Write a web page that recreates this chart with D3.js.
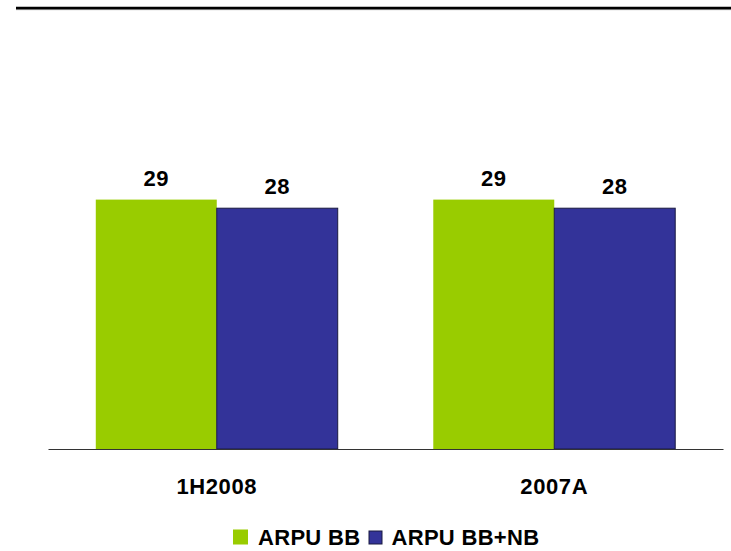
<!DOCTYPE html>
<html>
<head>
<meta charset="utf-8">
<script src="https://cdn.jsdelivr.net/npm/d3@7/dist/d3.min.js"></script>
<style>
  html, body { margin: 0; padding: 0; background: #fff; }
  svg { display: block; }
  text { font-family: "Liberation Sans", Arial, sans-serif; font-weight: bold; fill: #000; }
</style>
</head>
<body>
<svg id="chart" width="731" height="551"></svg>
<script>
// ARPU comparison by period
const categories = ["1H2008", "2007A"];
const seriesNames = ["ARPU BB", "ARPU BB+NB"];
const arpuBB = [29, 29];
const arpuBBNB = [28, 28];
const seriesColors = ["#99cc00", "#333399"];

const svg = d3.select("#chart");
const W = 731, H = 551;
const plot = { left: 48, right: 723, top: 105, bottom: 449 };

const rows = categories.map((c, i) => ({ category: c, values: [arpuBB[i], arpuBBNB[i]] }));

const x0 = d3.scaleBand().domain(categories).range([plot.left, plot.right]).paddingInner(0).paddingOuter(0);
const x1 = d3.scaleBand().domain(d3.range(seriesNames.length)).range([0, x0.bandwidth()]).paddingInner(0).paddingOuter(0.395);
const y = d3.scaleLinear().domain([0, 40]).range([plot.bottom, plot.top]);

// Header rule
svg.append("line").attr("x1", 16).attr("x2", W).attr("y1", 8).attr("y2", 8)
  .attr("stroke", "#000").attr("stroke-width", 2.6);
svg.append("line").attr("x1", 16).attr("x2", W).attr("y1", 9.6).attr("y2", 9.6)
  .attr("stroke", "#555").attr("stroke-width", 0.8);

// Bars
const groups = svg.append("g").selectAll("g").data(rows).join("g")
  .attr("transform", d => `translate(${x0(d.category)},0)`);

groups.selectAll("rect").data(d => d.values.map((v, i) => ({ v, i }))).join("rect")
  .attr("x", d => x1(d.i))
  .attr("width", x1.bandwidth())
  .attr("y", d => y(d.v))
  .attr("height", d => y(0) - y(d.v))
  .attr("fill", d => seriesColors[d.i])
  .attr("stroke", d => d.i === 1 ? "#1a1a40" : "none")
  .attr("stroke-width", 1);

// Value labels
groups.selectAll("text").data(d => d.values.map((v, i) => ({ v, i }))).join("text")
  .attr("x", d => x1(d.i) + x1.bandwidth() / 2)
  .attr("y", d => y(d.v) - 14)
  .attr("text-anchor", "middle")
  .attr("font-size", 22)
  .attr("letter-spacing", 0.5)
  .text(d => d.v);

// Category axis
const xAxis = svg.append("g").attr("transform", `translate(0,${plot.bottom})`)
  .call(d3.axisBottom(x0).tickSize(0).tickPadding(0));
xAxis.select(".domain").attr("stroke", "#333").attr("stroke-width", 1.2);
xAxis.selectAll(".tick text")
  .attr("y", 45)
  .attr("dy", 0)
  .attr("font-size", 22)
  .attr("letter-spacing", 0.6)
  .attr("font-family", "Liberation Sans, Arial, sans-serif")
  .attr("font-weight", "bold")
  .attr("fill", "#000");

// Legend
const legendItems = [
  { name: seriesNames[0], color: seriesColors[0], sx: 233, sy: 529.5, size: 15, tx: 258, stroke: "none" },
  { name: seriesNames[1], color: seriesColors[1], sx: 369, sy: 531, size: 13, tx: 391.5, stroke: "#1a1a40" }
];
const legend = svg.append("g");
legendItems.forEach(it => {
  legend.append("rect").attr("x", it.sx).attr("y", it.sy).attr("width", it.size).attr("height", it.size)
    .attr("fill", it.color).attr("stroke", it.stroke).attr("stroke-width", 1);
  legend.append("text").attr("x", it.tx).attr("y", 545).attr("font-size", 22).attr("letter-spacing", 0.3).text(it.name);
});
</script>
</body>
</html>
